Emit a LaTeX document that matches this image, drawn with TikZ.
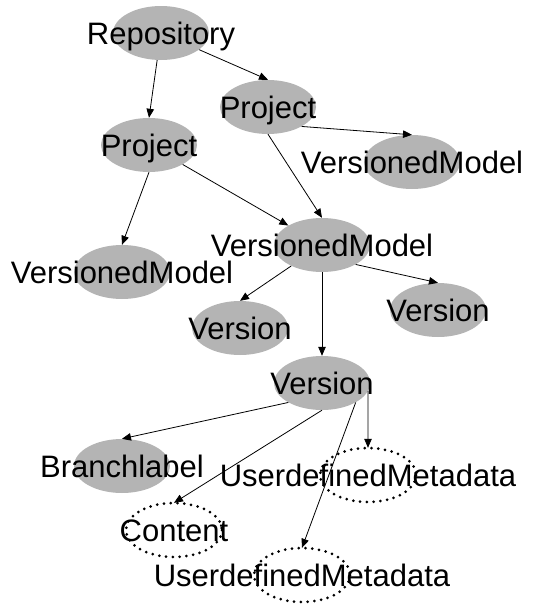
\documentclass[tikz,border=0pt]{standalone}
\usepackage{fontspec}
\setmainfont{Liberation Sans}
\usetikzlibrary{shapes.geometric,arrows.meta}
\definecolor{grau}{RGB}{180,180,180}

\begin{document}
\begin{tikzpicture}[
x=1pt, y=-1pt,
element/.style={ellipse, inner sep=0pt, minimum width=96pt, minimum height=54pt,
  text height=22pt, text depth=0pt, font=\fontsize{31}{37}\selectfont},
voll/.style={element, fill=grau},
optional/.style={element},
punktlinie/.style={line width=3pt, dash pattern=on 0pt off 6.8pt, line cap=round},
pfeil/.style={-{Triangle[length=9pt,width=7.5pt]}, line width=0.8pt},
]
\useasboundingbox (0,0) rectangle (533,605);

\node[voll] (repo) at (161,33) {\makebox[0pt]{Repository}};
\node[voll] (prjR) at (268,107) {\makebox[0pt]{Project}};
\node[voll] (prjL) at (149,145) {\makebox[0pt]{Project}};
\node[voll] (vmR) at (412,162) {\makebox[0pt]{VersionedModel}};
\node[voll] (vmM) at (322,245) {\makebox[0pt]{VersionedModel}};
\node[voll] (vmL) at (122,272) {\makebox[0pt]{VersionedModel}};
\node[voll] (verL) at (240,328) {\makebox[0pt]{Version}};
\node[voll] (verR) at (438,310) {\makebox[0pt]{Version}};
\node[voll] (ver) at (322,383) {\makebox[0pt]{Version}};
\node[voll] (branch) at (122,466) {\makebox[0pt]{Branchlabel}};

\node[optional] (udmR) at (368,475) {\makebox[0pt]{UserdefinedMetadata}};
\node[optional] (content) at (174,530) {\makebox[0pt]{Content}};
\node[optional] (udmB) at (302,575) {\makebox[0pt]{UserdefinedMetadata}};

\foreach \n in {udmR,content,udmB}
  \draw[punktlinie] (\n.center) ellipse (48 and 27);

\draw[pfeil] (repo) -- (prjR.north);
\draw[pfeil] (repo) -- (prjL.north);
\draw[pfeil] (prjR.-30) -- (vmR.north);
\draw[pfeil] (prjR.south) -- (vmM.north);
\draw[pfeil] (prjL) -- (vmM);
\draw[pfeil] (prjL.south) -- (vmL.north);

\draw[pfeil] (vmM) -- (verL.north);
\draw[pfeil] (vmM.south) -- (ver.north);
\draw[pfeil] (vmM.-30) -- (verR.north);

\draw[pfeil] (ver.-150) -- (branch.north);
\draw[pfeil] (ver.south) -- (content.north);
\draw[pfeil] (ver.-10) -- (udmR.north);
\draw[pfeil] (ver.-30) -- (udmB.north);

\end{tikzpicture}
\end{document}
